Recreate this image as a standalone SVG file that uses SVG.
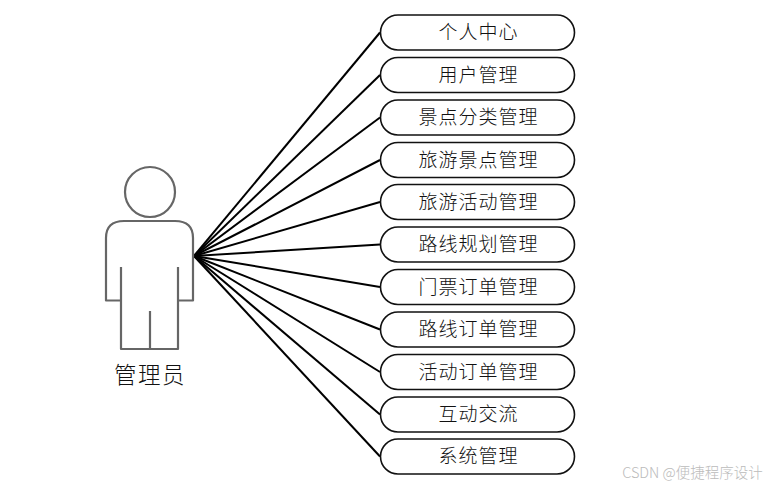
<svg xmlns="http://www.w3.org/2000/svg" width="770" height="487" viewBox="0 0 770 487">
<style>
text{font-family:"Noto Sans CJK SC","Liberation Serif",serif;font-weight:300;fill:#111;text-anchor:middle}
.n rect{fill:#fff;stroke:#111;stroke-width:1.6}
.n text{font-size:19px;letter-spacing:1px}
#connectors line{stroke:#000;stroke-width:2}
#actor path,#actor circle{fill:none;stroke:#666;stroke-width:2.2;stroke-linejoin:round}
</style>
<rect width="770" height="487" fill="#fff"/>
<g id="connectors">
<line x1="194" y1="256" x2="380" y2="32.5"/>
<line x1="194" y1="256" x2="380" y2="75"/>
<line x1="194" y1="256" x2="380" y2="117.5"/>
<line x1="194" y1="256" x2="380" y2="160"/>
<line x1="194" y1="256" x2="380" y2="202"/>
<line x1="194" y1="256" x2="380" y2="244.5"/>
<line x1="194" y1="256" x2="380" y2="287"/>
<line x1="194" y1="256" x2="380" y2="329.5"/>
<line x1="194" y1="256" x2="380" y2="372"/>
<line x1="194" y1="256" x2="380" y2="414.5"/>
<line x1="194" y1="256" x2="380" y2="456.5"/>
</g>
<g id="actor">
<circle cx="150" cy="192" r="25"/>
<path d="M121 267V349H178V267M121 300.500H106V238Q106 221 124 221H175Q193 221 193 238V300.500H178M150 311V349"/>
<text x="150" y="383" style="font-size:22.500px;letter-spacing:1.500px">管理员</text>
</g>
<g id="n1" class="n"><rect x="380.500" y="15" width="194" height="35" rx="17.500"/><text x="478.500" y="39">个人中心</text></g>
<g id="n2" class="n"><rect x="380.500" y="57.500" width="194" height="35" rx="17.500"/><text x="478.500" y="81.500">用户管理</text></g>
<g id="n3" class="n"><rect x="380.500" y="100" width="194" height="35" rx="17.500"/><text x="478.500" y="124">景点分类管理</text></g>
<g id="n4" class="n"><rect x="380.500" y="142.500" width="194" height="35" rx="17.500"/><text x="478.500" y="166.500">旅游景点管理</text></g>
<g id="n5" class="n"><rect x="380.500" y="184.500" width="194" height="35" rx="17.500"/><text x="478.500" y="208.500">旅游活动管理</text></g>
<g id="n6" class="n"><rect x="380.500" y="227" width="194" height="35" rx="17.500"/><text x="478.500" y="251">路线规划管理</text></g>
<g id="n7" class="n"><rect x="380.500" y="269.500" width="194" height="35" rx="17.500"/><text x="478.500" y="293.500">门票订单管理</text></g>
<g id="n8" class="n"><rect x="380.500" y="312" width="194" height="35" rx="17.500"/><text x="478.500" y="336">路线订单管理</text></g>
<g id="n9" class="n"><rect x="380.500" y="354.500" width="194" height="35" rx="17.500"/><text x="478.500" y="378.500">活动订单管理</text></g>
<g id="n10" class="n"><rect x="380.500" y="397" width="194" height="35" rx="17.500"/><text x="478.500" y="421">互动交流</text></g>
<g id="n11" class="n"><rect x="380.500" y="439" width="194" height="35" rx="17.500"/><text x="478.500" y="463">系统管理</text></g>
<text x="692.500" y="478" style="font-size:14.500px;fill:#bbb">CSDN @便捷程序设计</text>
</svg>
